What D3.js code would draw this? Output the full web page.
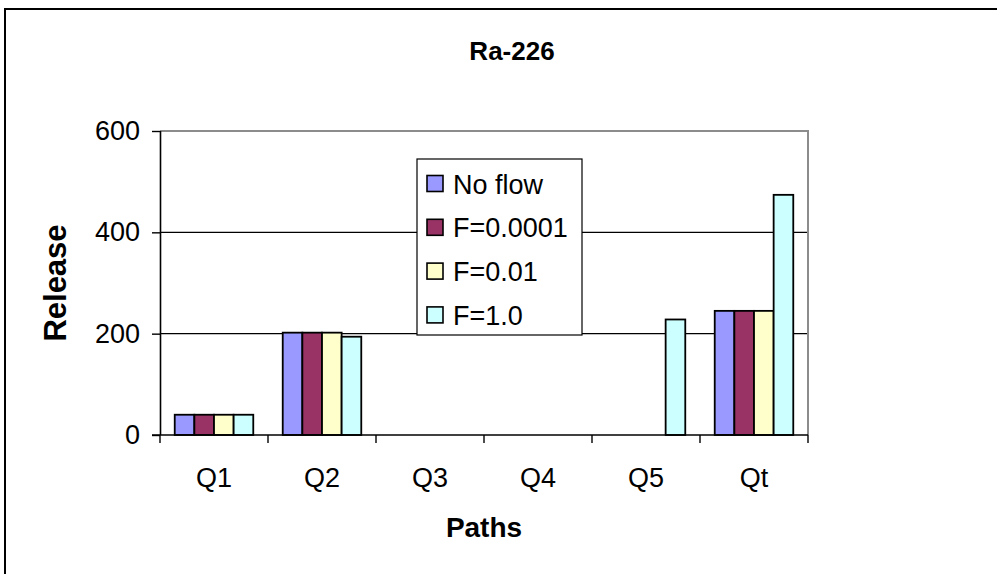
<!DOCTYPE html>
<html>
<head>
<meta charset="utf-8">
<script src="https://cdn.jsdelivr.net/npm/d3@7"></script>
<style>
  html, body { margin: 0; padding: 0; background: #fff; }
  svg { display: block; }
  text { font-family: "Liberation Sans", Arial, sans-serif; fill: #000; }
</style>
</head>
<body>
<svg id="chart" width="997" height="574"></svg>
<script>
// Release of Ra-226 by path, for four flow settings
const categories = ["Q1", "Q2", "Q3", "Q4", "Q5", "Qt"];
const seriesNames = ["No flow", "F=0.0001", "F=0.01", "F=1.0"];
const noFlow   = [40, 202, 0, 0, 0, 245];
const f0001    = [40, 202, 0, 0, 0, 245];
const f001     = [40, 202, 0, 0, 0, 245];
const f10      = [40, 194, 0, 0, 228, 474];
const yTicks   = [0, 200, 400, 600];
const colors   = ["#9999FF", "#993366", "#FFFFCC", "#CCFFFF"];

const seriesValues = [noFlow, f0001, f001, f10];

const svg = d3.select("#chart");

// outer chart frame (runs off the right and bottom edges)
svg.append("rect")
  .attr("x", 5).attr("y", 9)
  .attr("width", 1100).attr("height", 700)
  .attr("fill", "none").attr("stroke", "#000").attr("stroke-width", 2);

const plot = { left: 160, right: 808, top: 131, bottom: 435 };

const x = d3.scaleBand().domain(categories).range([plot.left, plot.right]).padding(0);
const xs = d3.scaleBand().domain(seriesNames).range([0, x.bandwidth()])
  .paddingInner(0).paddingOuter(0.75);
const y = d3.scaleLinear().domain([0, 600]).range([plot.bottom, plot.top]);

// gridlines
svg.append("g")
  .selectAll("line")
  .data(yTicks.filter(t => t > 0 && t < 600))
  .join("line")
  .attr("x1", plot.left).attr("x2", plot.right)
  .attr("y1", d => y(d)).attr("y2", d => y(d))
  .attr("stroke", "#000").attr("stroke-width", 1.4);

// plot-area border (top and right)
svg.append("path")
  .attr("d", `M${plot.left},${plot.top}H${plot.right}V${plot.bottom}`)
  .attr("fill", "none").attr("stroke", "#8c8c8c").attr("stroke-width", 2);

// bars
const groups = svg.append("g")
  .selectAll("g")
  .data(seriesNames)
  .join("g")
  .attr("fill", (d, i) => colors[i]);

groups.selectAll("rect")
  .data((s, i) => categories.map((c, j) => ({ c, s, v: seriesValues[i][j] })).filter(d => d.v > 0))
  .join("rect")
  .attr("x", d => x(d.c) + xs(d.s))
  .attr("y", d => y(d.v))
  .attr("width", xs.bandwidth())
  .attr("height", d => y(0) - y(d.v))
  .attr("stroke", "#000").attr("stroke-width", 1.8);

// y axis
const yAxis = svg.append("g")
  .attr("transform", `translate(${plot.left},0)`)
  .call(d3.axisLeft(y).tickValues(yTicks).tickSize(8).tickPadding(12).tickFormat(d3.format("d")));
yAxis.select(".domain").attr("stroke", "#000").attr("stroke-width", 1.6)
  .attr("d", `M0.5,${plot.top}V${plot.bottom}`);
yAxis.selectAll(".tick line").attr("stroke", "#000").attr("stroke-width", 1.4);
yAxis.selectAll(".tick text").attr("font-size", 27).attr("fill", "#000")
  .attr("font-family", "'Liberation Sans', Arial, sans-serif");

// x axis: ticks sit on the category boundaries
const xAxisG = svg.append("g").attr("transform", `translate(0,${plot.bottom})`);
xAxisG.append("line")
  .attr("x1", plot.left - 8).attr("x2", plot.right)
  .attr("stroke", "#000").attr("stroke-width", 1.6);
const bounds = categories.map(c => x(c)).concat([plot.right]);
xAxisG.selectAll("line.tk")
  .data(bounds)
  .join("line").attr("class", "tk")
  .attr("x1", d => d).attr("x2", d => d)
  .attr("y1", 0).attr("y2", 8)
  .attr("stroke", "#000").attr("stroke-width", 1.4);
xAxisG.selectAll("text")
  .data(categories)
  .join("text")
  .attr("x", d => x(d) + x.bandwidth() / 2)
  .attr("y", 52)
  .attr("text-anchor", "middle")
  .attr("font-size", 27)
  .text(d => d);

// titles
svg.append("text")
  .attr("x", 512).attr("y", 60)
  .attr("text-anchor", "middle")
  .attr("font-size", 26).attr("font-weight", "bold")
  .text("Ra-226");

svg.append("text")
  .attr("x", (plot.left + plot.right) / 2).attr("y", 537)
  .attr("text-anchor", "middle")
  .attr("font-size", 28).attr("font-weight", "bold")
  .text("Paths");

svg.append("text")
  .attr("transform", `translate(66,${(plot.top + plot.bottom) / 2}) rotate(-90)`)
  .attr("text-anchor", "middle")
  .attr("font-size", 31).attr("font-weight", "bold")
  .text("Release");

// legend
const lg = svg.append("g").attr("transform", "translate(417,159)");
lg.append("rect")
  .attr("width", 165).attr("height", 176)
  .attr("fill", "#fff").attr("stroke", "#000").attr("stroke-width", 1.2);
const items = lg.selectAll("g.item")
  .data(seriesNames)
  .join("g").attr("class", "item")
  .attr("transform", (d, i) => `translate(0,${24.5 + i * 43.8})`);
items.append("rect")
  .attr("x", 10).attr("y", -8)
  .attr("width", 16).attr("height", 16)
  .attr("fill", (d, i) => colors[i])
  .attr("stroke", "#000").attr("stroke-width", 1.6);
items.append("text")
  .attr("x", 36).attr("y", 10)
  .attr("font-size", 27)
  .text(d => d);
</script>
</body>
</html>
